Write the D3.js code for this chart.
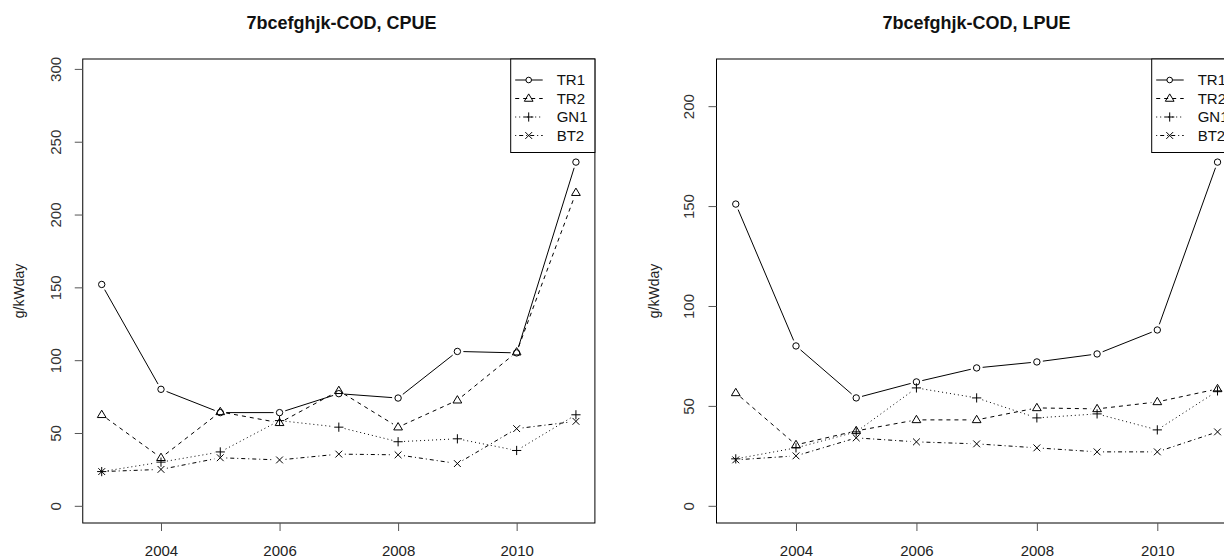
<!DOCTYPE html>
<html>
<head>
<meta charset="utf-8">
<script src="https://cdn.jsdelivr.net/npm/d3@7"></script>
<style>
  html, body { margin: 0; padding: 0; background: #fff; }
  svg { display: block; }
  text { font-family: "Liberation Sans", Arial, sans-serif; }
</style>
</head>
<body>
<svg id="chart" width="1224" height="560"></svg>
<script>
// ---- data ----
const years = [2003, 2004, 2005, 2006, 2007, 2008, 2009, 2010, 2011];
const seriesNames = ["TR1", "TR2", "GN1", "BT2"];

const cpueTR1 = [152, 80, 64, 64, 77, 74, 106, 105, 236];
const cpueTR2 = [62.5, 33, 64.5, 57, 79, 54, 72.5, 105.5, 215];
const cpueGN1 = [23.5, 30, 37, 58.5, 54, 44, 46, 38, 62.5];
const cpueBT2 = [23.5, 25, 33, 31.5, 35.5, 35, 29, 53, 58];

const lpueTR1 = [151, 80, 54, 62, 69, 72, 76, 88, 172];
const lpueTR2 = [56.5, 30.5, 37.5, 43, 43, 49, 48.5, 52, 58.5];
const lpueGN1 = [23.5, 29, 37, 59, 54, 44, 46, 38, 57.5];
const lpueBT2 = [23, 25, 34, 32, 31, 29, 27, 27, 37];

const xTicks = [2004, 2006, 2008, 2010];
const yTicksCPUE = [0, 50, 100, 150, 200, 250, 300];
const yTicksLPUE = [0, 50, 100, 150, 200];

const titleCPUE = "7bcefghjk-COD, CPUE";
const titleLPUE = "7bcefghjk-COD, LPUE";
const yLabel = "g/kWday";

// ---- styles ----
const dashes = [null, "4,4", "1,3", "1,3,4,3"];
const symbols = ["circle", "triangle", "plus", "cross"];

const svg = d3.select("#chart");

function drawSymbol(g, type, x, y) {
  if (type === "circle") {
    g.append("circle").attr("cx", x).attr("cy", y).attr("r", 3.2)
      .attr("fill", "none").attr("stroke", "#000").attr("stroke-width", 1);
  } else if (type === "triangle") {
    const s = 4.6;
    g.append("path")
      .attr("d", `M${x},${y - s}L${x + s * 0.95},${y + s * 0.6}L${x - s * 0.95},${y + s * 0.6}Z`)
      .attr("fill", "none").attr("stroke", "#000").attr("stroke-width", 1);
  } else if (type === "plus") {
    const s = 4.6;
    g.append("path")
      .attr("d", `M${x - s},${y}L${x + s},${y}M${x},${y - s}L${x},${y + s}`)
      .attr("stroke", "#000").attr("stroke-width", 1);
  } else if (type === "cross") {
    const s = 3.4;
    g.append("path")
      .attr("d", `M${x - s},${y - s}L${x + s},${y + s}M${x - s},${y + s}L${x + s},${y - s}`)
      .attr("stroke", "#000").attr("stroke-width", 1);
  }
}

function panel(opts) {
  const { x0, x1, y0, y1, yDomain, yTicks, data, title, titleX, legendLeft, yTickLabelX, yLabelX } = opts;
  const x = d3.scaleLinear().domain([2002.68, 2011.32]).range([x0, x1]);
  const y = d3.scaleLinear().domain(yDomain).range([y1, y0]);
  const g = svg.append("g");

  // box
  g.append("rect").attr("x", x0).attr("y", y0).attr("width", x1 - x0).attr("height", y1 - y0)
    .attr("fill", "none").attr("stroke", "#000").attr("stroke-width", 1);

  // x axis
  const xa = g.append("g").attr("transform", `translate(0,${y1})`)
    .call(d3.axisBottom(x).tickValues(xTicks).tickFormat(d3.format("d")).tickSize(8).tickSizeOuter(0));
  xa.select(".domain").remove();
  xa.selectAll("line").attr("stroke", "#555");
  xa.selectAll("text").attr("font-size", 15).attr("fill", "#222").attr("dy", "1.45em");

  // y axis
  const ya = g.append("g").attr("transform", `translate(${x0},0)`)
    .call(d3.axisLeft(y).tickValues(yTicks).tickFormat(d3.format("d")).tickSize(8).tickSizeOuter(0));
  ya.select(".domain").remove();
  ya.selectAll("line").attr("stroke", "#555");
  ya.selectAll("text").remove();
  ya.selectAll(".tick").append("text")
    .attr("transform", `translate(${yTickLabelX - x0},0) rotate(-90)`)
    .attr("text-anchor", "middle").attr("dy", "0.36em")
    .attr("font-size", 15).attr("fill", "#333")
    .text(d => d);

  // y label
  g.append("text").attr("transform", `translate(${yLabelX},${(y0 + y1) / 2}) rotate(-90)`)
    .attr("text-anchor", "middle").attr("dy", "0.36em").attr("font-size", 14).attr("fill", "#222")
    .text(yLabel);

  // title
  g.append("text").attr("x", titleX).attr("y", 29).attr("text-anchor", "middle")
    .attr("font-size", 18).attr("font-weight", "bold").attr("fill", "#111").text(title);

  // series lines with gaps (type = "b")
  const gap = 6;
  data.forEach((vals, si) => {
    const pts = years.map((yr, i) => [x(yr), y(vals[i])]);
    for (let i = 0; i < pts.length - 1; i++) {
      const [ax, ay] = pts[i], [bx, by] = pts[i + 1];
      const dx = bx - ax, dy = by - ay, len = Math.hypot(dx, dy);
      if (len <= 2 * gap) continue;
      const ux = dx / len, uy = dy / len;
      g.append("line")
        .attr("x1", ax + ux * gap).attr("y1", ay + uy * gap)
        .attr("x2", bx - ux * gap).attr("y2", by - uy * gap)
        .attr("stroke", "#000").attr("stroke-width", 1)
        .attr("stroke-dasharray", dashes[si]);
    }
    pts.forEach(p => drawSymbol(g, symbols[si], p[0], p[1]));
  });

  // legend
  const lg = g.append("g");
  const lw = x1 - legendLeft;
  lg.append("rect").attr("x", legendLeft).attr("y", y0).attr("width", lw).attr("height", 93.5)
    .attr("fill", "#fff").attr("stroke", "#000").attr("stroke-width", 1);
  seriesNames.forEach((name, si) => {
    const ry = 80 + si * 18.5;
    lg.append("line").attr("x1", legendLeft + 4.5).attr("x2", legendLeft + 32)
      .attr("y1", ry).attr("y2", ry).attr("stroke", "#000").attr("stroke-width", 1)
      .attr("stroke-dasharray", dashes[si]);
    const sg = lg.append("g");
    if (symbols[si] === "circle") {
      sg.append("circle").attr("cx", legendLeft + 18).attr("cy", ry).attr("r", 2.8)
        .attr("fill", "#fff").attr("stroke", "#000");
    } else {
      drawSymbol(sg, symbols[si], legendLeft + 18, ry);
    }
    lg.append("text").attr("x", legendLeft + 46).attr("y", ry).attr("dy", "0.36em")
      .attr("font-size", 15).attr("fill", "#111").text(name);
  });
}

panel({
  x0: 82.75, x1: 594.9, y0: 59, y1: 523,
  yDomain: [-11.8, 306.8], yTicks: yTicksCPUE,
  data: [cpueTR1, cpueTR2, cpueGN1, cpueBT2],
  title: titleCPUE, titleX: 341.5, legendLeft: 510.7,
  yTickLabelX: 55.5, yLabelX: 19
});

panel({
  x0: 716.5, x1: 1236.8, y0: 59, y1: 523,
  yDomain: [-8.6, 223.6], yTicks: yTicksLPUE,
  data: [lpueTR1, lpueTR2, lpueGN1, lpueBT2],
  title: titleLPUE, titleX: 976.5, legendLeft: 1151.7,
  yTickLabelX: 689, yLabelX: 654
});
</script>
</body>
</html>
